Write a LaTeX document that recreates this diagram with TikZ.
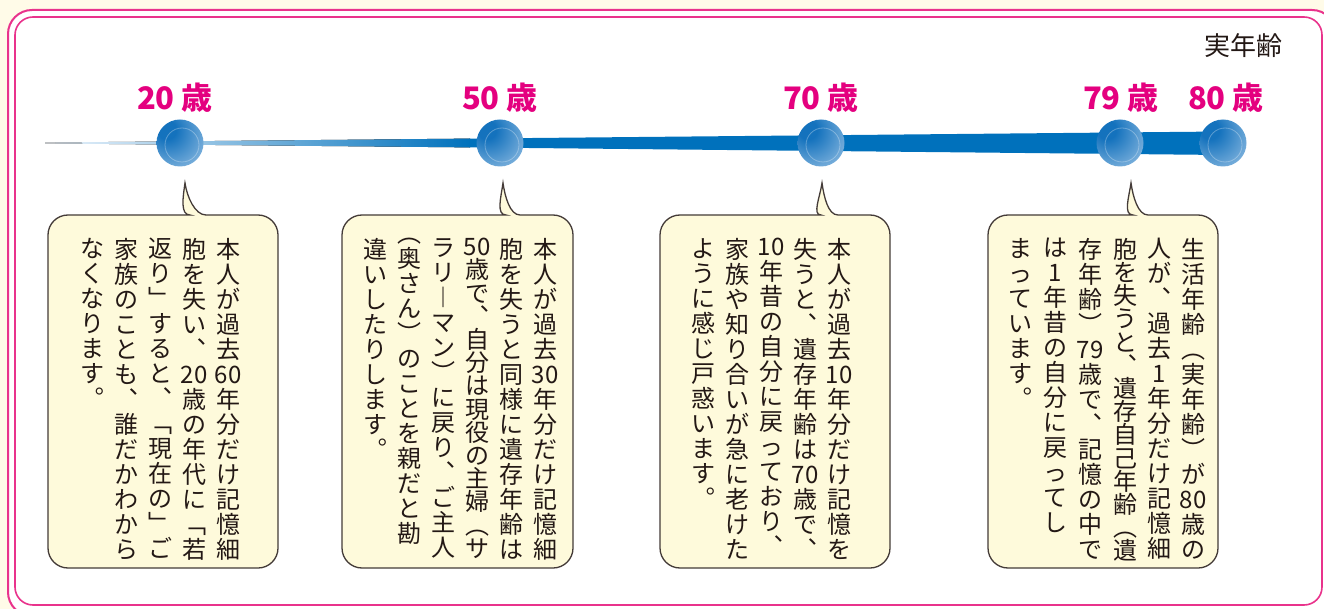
\documentclass[tikz,border=0pt]{standalone}
\usepackage{fontspec}
\newfontfamily\jp{Noto Sans CJK JP}
\definecolor{paper}{HTML}{FFFBE8}
\definecolor{framepink}{HTML}{E9338C}
\definecolor{bubble}{HTML}{FEFADB}
\definecolor{ink}{HTML}{231815}
\definecolor{agepink}{HTML}{E4007F}
\definecolor{barblue}{HTML}{0071BC}
\definecolor{barpale}{HTML}{EEF5FC}
\definecolor{beaddark}{HTML}{1472BD}
\definecolor{beadlight}{HTML}{C4DCF2}
\pgfdeclareradialshading{beadshade}{\pgfpoint{-16bp}{16bp}}{color(0bp)=(beaddark); color(10bp)=(beaddark); color(58bp)=(beadlight); color(80bp)=(beadlight)}
\tikzset{
  bead/.style={circle, minimum size=47pt, inner sep=0pt, shade, shading=beadshade},
  agelabel/.style={font=\jp\bfseries\fontsize{31}{31}\selectfont, text=agepink, inner sep=0pt},
  callout/.style={draw=ink!85, line width=1.3pt, fill=bubble},
  tate/.style={font=\jp\fontsize{24}{25}\selectfont, text=ink, align=center, anchor=north, inner sep=0pt,
    execute at begin node={\rule{0pt}{21pt}}},
  tatetight/.style={tate, font=\jp\fontsize{24}{23.2}\selectfont}
}
\begin{document}
\begin{tikzpicture}[x=1pt, y=-1pt]
\useasboundingbox (0,0) rectangle (1324,609);

% Frame
\fill[paper] (0,0) rectangle (1324,609);
\draw[framepink, line width=2pt, fill=white, rounded corners=24pt] (8,10) rectangle (1336,616);
\draw[framepink, line width=1.6pt, rounded corners=18pt] (15,17) rectangle (1322,605);

\node[font=\jp\fontsize{26}{26}\selectfont, text=ink] (real) at (1243,46) {実年齢};

% Time line
\fill[left color=barpale, middle color=barblue!60, right color=barblue] (45,142.6) -- (470,138.6) -- (470,147.4) -- (45,143.4) -- cycle;
\fill[barblue] (469,138.6) -- (1223,131.5) -- (1223,155) -- (469,147.4) -- cycle;

\node[bead] (b20) at (180,143) {};
\node[bead] (b50) at (500,143) {};
\node[bead] (b70) at (821,143) {};
\node[bead] (b79) at (1120,143) {};
\node[bead] (b80) at (1223,143) {};
\foreach \b in {b20,b50,b70,b79,b80}
  \draw[white, opacity=0.3, line width=0.8pt] ([shift={(2,2)}]\b.center) circle (17pt);

\node[agelabel] (l20) at (175,98) {20 歳};
\node[agelabel] (l50) at (500,98) {50 歳};
\node[agelabel] (l70) at (821,98) {70 歳};
\node[agelabel] (l79) at (1121,98) {79 歳};
\node[agelabel] (l80) at (1226,98) {80 歳};

% 20
\draw[callout] (170,215) .. controls (180,215) and (183,197) .. (185,183) .. controls (187,197) and (195,215) .. (206,215)
  [rounded corners=20pt] -- (278,215) -- (278,568) -- (48,568) -- (48,215) -- cycle;
\node[tate] (c20a) at (228,238) {本\\人\\が\\過\\去\\60\\年\\分\\だ\\け\\記\\憶\\細};
\node[tate] (c20b) at (194,238) {胞\\を\\失\\い\\︑\\20\\歳\\の\\年\\代\\に\\﹁\\若};
\node[tate] (c20c) at (160,238) {返\\り\\﹂\\す\\る\\と\\︑\\﹁\\現\\在\\の\\﹂\\ご};
\node[tate] (c20d) at (126,238) {家\\族\\の\\こ\\と\\も\\︑\\誰\\だ\\か\\わ\\か\\ら};
\node[tate] (c20e) at (92,238) {な\\く\\な\\り\\ま\\す\\︒};

% 50
\draw[callout] (486,215) .. controls (496,215) and (501,197) .. (503,183) .. controls (505,197) and (510,215) .. (520,215)
  [rounded corners=20pt] -- (573,215) -- (573,568) -- (342,568) -- (342,215) -- cycle;
\node[tate] (c50a) at (545,238) {本\\人\\が\\過\\去\\30\\年\\分\\だ\\け\\記\\憶\\細};
\node[tate] (c50b) at (511,238) {胞\\を\\失\\う\\と\\同\\様\\に\\遺\\存\\年\\齢\\は};
\node[tatetight] (c50c) at (477,238) {50\\歳\\で\\︑\\自\\分\\は\\現\\役\\の\\主\\婦\\︵\\サ};
\node[tate] (c50d) at (443,238) {ラ\\リ\\︱\\マ\\ン\\︶\\に\\戻\\り\\︑\\ご\\主\\人};
\node[tate] (c50e) at (409,238) {︵\\奥\\さ\\ん\\︶\\の\\こ\\と\\を\\親\\だ\\と\\勘};
\node[tate] (c50f) at (375,238) {違\\い\\し\\た\\り\\し\\ま\\す\\︒};

% 70
\draw[callout] (801,215) .. controls (812,215) and (820,197) .. (822,183) .. controls (824,197) and (828,215) .. (838,215)
  [rounded corners=20pt] -- (890,215) -- (890,568) -- (660,568) -- (660,215) -- cycle;
\node[tate] (c70a) at (839,238) {本\\人\\が\\過\\去\\10\\年\\分\\だ\\け\\記\\憶\\を};
\node[tate] (c70b) at (805,238) {失\\う\\と\\︑\\遺\\存\\年\\齢\\は\\70\\歳\\で\\︑};
\node[tate] (c70c) at (771,238) {10\\年\\昔\\の\\自\\分\\に\\戻\\っ\\て\\お\\り\\︑};
\node[tate] (c70d) at (737,238) {家\\族\\や\\知\\り\\合\\い\\が\\急\\に\\老\\け\\た};
\node[tate] (c70e) at (703,238) {よ\\う\\に\\感\\じ\\戸\\惑\\い\\ま\\す\\︒};

% 79
\draw[callout] (1113,215) .. controls (1123,215) and (1129,197) .. (1131,183) .. controls (1133,197) and (1138,215) .. (1148,215)
  [rounded corners=20pt] -- (1218,215) -- (1218,568) -- (988,568) -- (988,215) -- cycle;
\node[tate] (c79a) at (1193,238) {生\\活\\年\\齢\\︵\\実\\年\\齢\\︶\\が\\80\\歳\\の};
\node[tate] (c79b) at (1159,238) {人\\が\\︑\\過\\去\\1\\年\\分\\だ\\け\\記\\憶\\細};
\node[tatetight] (c79c) at (1125,238) {胞\\を\\失\\う\\と\\︑\\遺\\存\\自\\己\\年\\齢\\︵\\遺};
\node[tate] (c79d) at (1090,238) {存\\年\\齢\\︶\\79\\歳\\で\\︑\\記\\憶\\の\\中\\で};
\node[tate] (c79e) at (1055,238) {は\\1\\年\\昔\\の\\自\\分\\に\\戻\\っ\\て\\し};
\node[tate] (c79f) at (1020,238) {ま\\っ\\て\\い\\ま\\す\\︒};
\end{tikzpicture}
\end{document}
